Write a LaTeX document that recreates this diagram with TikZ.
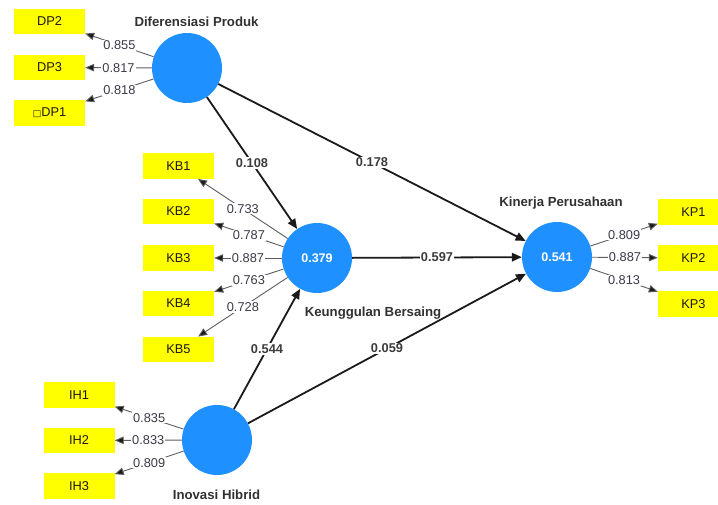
\documentclass[tikz,border=0pt]{standalone}
\usepackage{fontspec}
\setmainfont{Liberation Sans}
\newfontfamily\symfont{DejaVu Sans}
\usetikzlibrary{arrows.meta}
\definecolor{ink}{HTML}{1B1919}
\definecolor{lvBlue}{HTML}{1E90FF}
\definecolor{mvYellow}{HTML}{FFFF00}
\definecolor{wGray}{HTML}{3A3A48}
\tikzset{
  lv/.style={circle, fill=lvBlue, minimum size=70pt, inner sep=0pt, text=white, font=\fontsize{12.5}{14}\selectfont\bfseries},
  mv/.style={rectangle, fill=mvYellow, minimum width=71pt, minimum height=25.5pt, inner sep=0pt, font=\fontsize{12.8}{14}\selectfont, text=ink},
  lvname/.style={font=\fontsize{13.2}{15}\selectfont\bfseries, text=ink!90},
  loadln/.style={-{Triangle[length=9pt,width=7.5pt,fill=ink]}, draw=ink!70, line width=0.9pt},
  pathln/.style={-{Triangle[length=10pt,width=8.5pt]}, draw=ink, line width=1.8pt},
  ld/.style={fill=white, inner sep=1pt, font=\fontsize{12.8}{14}\selectfont, text=wGray},
  coef/.style={fill=white, inner sep=1pt, font=\fontsize{12.8}{14}\selectfont\bfseries, text=ink!85},
}

\begin{document}
\begin{tikzpicture}[x=1pt, y=-1pt]
\useasboundingbox (0,0) rectangle (718,505);
% constructs
\node[lv] (dp) at (187,68) {};
\node[lv] (kb) at (317,258) {0.379};
\node[lv] (ih) at (217,440) {};
\node[lv] (kp) at (557,257) {0.541};
\node[lvname] (dpname) at (196.5,22) {Diferensiasi Produk};
\node[lvname] (kbname) at (373,313) {Keunggulan Bersaing};
\node[lvname] (ihname) at (216.5,495) {Inovasi Hibrid};
\node[lvname] (kpname) at (561,203) {Kinerja Perusahaan};
% indicators
\node[mv] (dp2) at (49.5,21.5) {DP2};
\node[mv] (dp3) at (49.5,67.5) {DP3};
\node[mv] (dp1) at (49.5,113) {{\symfont\fontsize{9}{10}\selectfont □}DP1};
\foreach \i/\y in {1/166, 2/211.5, 3/258, 4/303.5, 5/349.5} \node[mv] (kb\i) at (178.5,\y) {KB\i};
\foreach \i/\y in {1/395, 2/440.5, 3/486} \node[mv] (ih\i) at (79,\y) {IH\i};
\foreach \i/\y in {1/212, 2/258, 3/304} \node[mv] (kp\i) at (693.5,\y) {KP\i};
% outer loadings
\foreach \n/\v in {dp2/0.855, dp3/0.817, dp1/0.818} \draw[loadln] (dp) -- node[ld] {\v} (\n);
\foreach \n/\v in {kb1/0.733, kb2/0.787, kb3/0.887, kb4/0.763, kb5/0.728} \draw[loadln] (kb) -- node[ld] {\v} (\n);
\foreach \n/\v in {ih1/0.835, ih2/0.833, ih3/0.809} \draw[loadln] (ih) -- node[ld] {\v} (\n);
\foreach \n/\v in {kp1/0.809, kp2/0.887, kp3/0.813} \draw[loadln] (kp) -- node[ld] {\v} (\n);
% path coefficients
\draw[pathln] (dp) -- node[coef] {0.108} (kb);
\draw[pathln] (dp) -- node[coef] {0.178} (kp);
\draw[pathln] (kb) -- node[coef] {0.597} (kp);
\draw[pathln] (ih) -- node[coef] {0.544} (kb);
\draw[pathln] (ih) -- node[coef] {0.059} (kp);
\end{tikzpicture}
\end{document}
